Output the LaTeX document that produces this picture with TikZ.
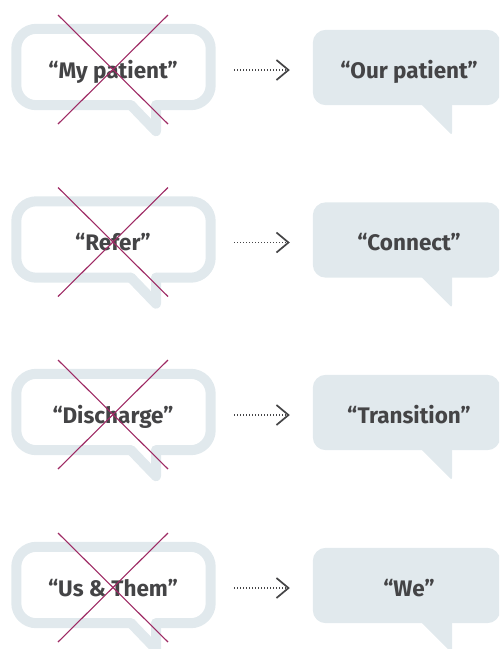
\documentclass[tikz,border=0pt]{standalone}
\usepackage{fontspec}
\setmainfont{Fira Sans}
\usetikzlibrary{calc,arrows.meta}
\definecolor{bub}{RGB}{225,233,237}
\definecolor{txt}{RGB}{68,68,70}
\definecolor{crs}{RGB}{158,42,100}
\tikzset{
  oldbox/.style={minimum width=194pt,minimum height=76pt,inner sep=0pt,draw=none},
  newbox/.style={minimum width=187pt,minimum height=75pt,inner sep=0pt,draw=none},
  bubline/.style={draw=bub,line width=10pt,line cap=round},
  bubfill/.style={fill=bub},
  saying/.style={anchor=base,text=txt,font=\fontsize{22.5}{24}\selectfont\bfseries,inner sep=0pt},
  crossline/.style={draw=crs,line width=1.1pt},
  changeto/.style={draw=txt,line width=1.2pt,dash pattern=on 1.2pt off 1.8pt,
    -{Straight Barb[length=12pt,width=20pt,line width=1.7pt]}}
}
\begin{document}
\begin{tikzpicture}[x=1pt,y=-1pt]
\useasboundingbox (0,0) rectangle (499,649);
\clip (0,0) rectangle (499,649);
\foreach \cy/\old/\new/\i in {70/{“My patient”}/{“Our patient”}/1,
                               242.5/{“Refer”}/{“Connect”}/2,
                               415/{“Discharge”}/{“Transition”}/3,
                               588/{“Us \& Them”}/{“We”}/4}{
  % boxes
  \node[oldbox] (old\i) at (113.5,\cy-3) {};
  \node[newbox] (new\i) at (406.5,\cy-2.5) {};
  % old bubble outline
  \draw[bubline,rounded corners=20pt] ($(old\i.south)+(42.5,0)$) -- (old\i.south east)
     -- (old\i.north east) -- (old\i.north west) -- (old\i.south west) -- ($(old\i.south)+(17.5,0)$);
  \draw[bubline,line join=round] ($(old\i.south)+(17.5,0)$) -- ($(old\i.south)+(42.5,26)$) -- ($(old\i.south)+(42.5,0)$);
  % new bubble filled
  \fill[bubfill,rounded corners=13pt] (new\i.south west) rectangle (new\i.north east);
  \fill[bubfill,rounded corners=2.5pt] ($(new\i.south)+(12.5,-3)$) -- ($(new\i.south)+(45.5,30)$) -- ($(new\i.south)+(45.5,-3)$) -- cycle;
  % texts
  \node[saying] (oldt\i) at (113,\cy+8) {\old};
  \node[saying] (newt\i) at (409,\cy+8) {\new};
  % cross
  \draw[crossline] ($(old\i.center)+(-55.5,-52)$) -- ($(old\i.center)+(54.5,57)$);
  \draw[crossline] ($(old\i.center)+(54.5,-52)$) -- ($(old\i.center)+(-55.5,57)$);
  % arrow
  \draw[changeto] ($(old\i.east)+(23.5,3)$) -- ($(new\i.west)+(-23,2.5)$);
}
\end{tikzpicture}
\end{document}
